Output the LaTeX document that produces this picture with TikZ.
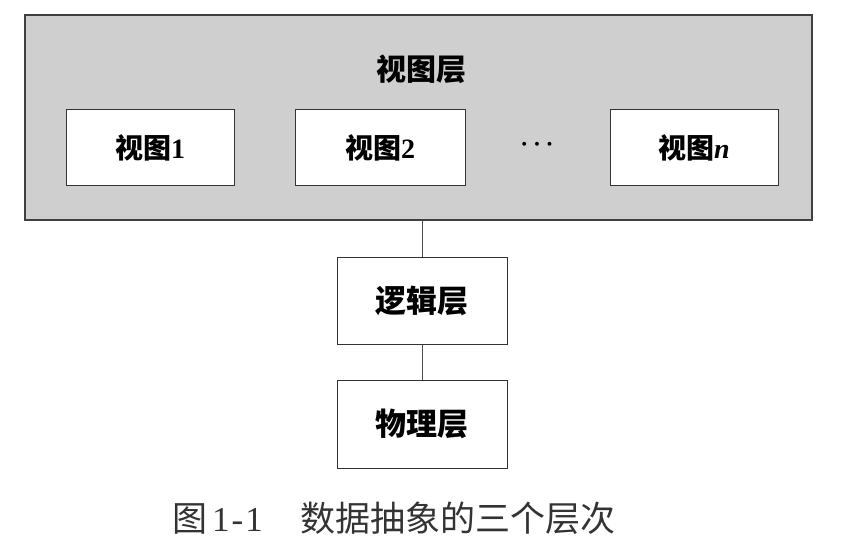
\documentclass[tikz,border=0pt]{standalone}
\usepackage{fontspec}
\setmainfont{Liberation Serif}
\newfontfamily\cjk{Noto Sans CJK SC}
\begin{document}
\begin{tikzpicture}[x=1pt,y=-1pt,
  box/.style={draw=black!80,line width=1pt,fill=white,minimum width=168pt,minimum height=76pt,inner sep=0pt,font=\fontsize{28}{30}\selectfont\bfseries},
  lowbox/.style={box,minimum width=170pt,font=\fontsize{31}{34}\selectfont\bfseries},
  conn/.style={draw=black!70,line width=0.9pt}]
\useasboundingbox (0,0) rectangle (845,546);
\node[draw=black!75,line width=1.4pt,fill=black!19,minimum width=787pt,minimum height=205pt,inner sep=0pt] (layer) at (418.5,117.5) {};
\node[font=\fontsize{30}{33}\selectfont\bfseries] (title) at (421,69) {\cjk 视图层};
\node[box] (v1) at (150,147.5) {{\cjk 视图}1};
\node[box,minimum width=170pt] (v2) at (380,147.5) {{\cjk 视图}2};
\node[font=\fontsize{31}{33}\selectfont\boldmath] (dots) at (537,145) {$\cdots$};
\node[box,minimum width=168pt] (vn) at (694,147.5) {{\cjk 视图}\textit{n}};
\node[lowbox,minimum height=87pt] (logic) at (422,300.5) {\cjk 逻辑层};
\node[lowbox,minimum height=88pt] (phys) at (422,424) {\cjk 物理层};
\draw[conn] (logic.north |- layer.south) -- (logic.north);
\draw[conn] (logic.south) -- (phys.north);
\node[font=\fontsize{35}{37}\selectfont,text=black!80] (cap) at (394,518) {{\cjk 图}\hspace{5pt}1\hspace{2pt}-\hspace{2pt}1\hspace{38pt}{\cjk 数据抽象的三个层次}};
\end{tikzpicture}
\end{document}
